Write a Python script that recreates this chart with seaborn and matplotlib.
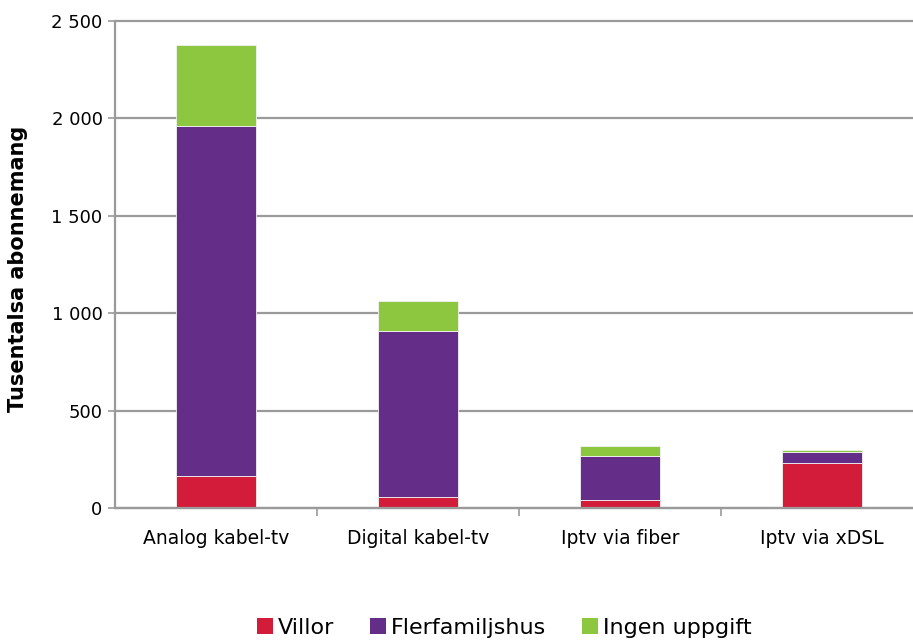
import matplotlib
matplotlib.use("Agg")
import matplotlib.pyplot as plt
import seaborn as sns
import pandas as pd
import numpy as np
from matplotlib.patches import Patch
from matplotlib.ticker import FuncFormatter, FixedLocator

categories = ["Analog kabel-tv", "Digital kabel-tv", "Iptv via fiber", "Iptv via xDSL"]
villor = [164, 58, 40, 233]
flerfamiljshus = [1798, 851, 228, 56]
ingen_uppgift = [416, 154, 50, 10]
series_names = ["Villor", "Flerfamiljshus", "Ingen uppgift"]
colors = ["#D21C3A", "#642D87", "#8DC63F"]

sns.set_theme(style="white")
plt.rcParams['font.family'] = ['DejaVu Sans']
plt.rcParams['text.color'] = 'black'
plt.rcParams['axes.labelcolor'] = 'black'

fig = plt.figure(figsize=(9.13, 6.4), dpi=100)
ax = fig.add_axes([115/913, 132/640, (913-115)/913, 487/640])

series = [villor, flerfamiljshus, ingen_uppgift]
bottom = np.zeros(len(categories))
for name, vals, col in zip(series_names, series, colors):
    df = pd.DataFrame({"cat": categories, "val": vals})
    sns.barplot(data=df, x="cat", y="val", color=col, bottom=bottom, width=0.4,
                edgecolor="#f2f2f2", linewidth=0.6, ax=ax, saturation=1)
    bottom = bottom + np.array(vals)

ax.set_xlim(-0.5, 3.45)
ax.set_ylim(0, 2500)
ax.set_yticks([0, 500, 1000, 1500, 2000, 2500])
ax.yaxis.set_major_formatter(FuncFormatter(lambda v, p: f"{int(v):,}".replace(",", " ")))
ax.yaxis.grid(True, color="#9a9a9a", linewidth=1.6)
for gl in ax.get_ygridlines():
    gl.set_clip_on(False)
ax.set_axisbelow(True)
for s in ["top", "right", "bottom"]:
    ax.spines[s].set_visible(False)
ax.spines["left"].set_color("#9a9a9a")
ax.spines["left"].set_linewidth(1.6)

ax.tick_params(axis="y", which="both", left=True, length=5, width=1.2, color="#9a9a9a",
               labelsize=13, labelcolor="black", pad=4)
ax.set_xticks(range(len(categories)))
ax.set_xticklabels(categories)
ax.tick_params(axis="x", which="major", bottom=False, labelsize=13.5, labelcolor="black", pad=9)
ax.xaxis.set_minor_locator(FixedLocator([0.5, 1.5, 2.5]))
ax.tick_params(axis="x", which="minor", bottom=True, length=6, width=1.2, color="#9a9a9a")
ax.axhline(0, color="#9a9a9a", linewidth=1.6, zorder=3, clip_on=False)

ax.set_xlabel("")
ax.set_ylabel("Tusentalsa abonnemang", fontsize=15, fontweight="bold", color="black",
              va="center")
ax.yaxis.set_label_coords((18 - 115) / 798, 0.49)

handles = [Patch(facecolor=c, edgecolor="none") for c in colors]
fig.legend(handles, series_names, loc="center", bbox_to_anchor=(0.552, 0.019), ncol=3,
           frameon=False, fontsize=16, handlelength=0.75, handleheight=0.75,
           handletextpad=0.2, columnspacing=1.6)

fig.savefig("out.png", dpi=100)
